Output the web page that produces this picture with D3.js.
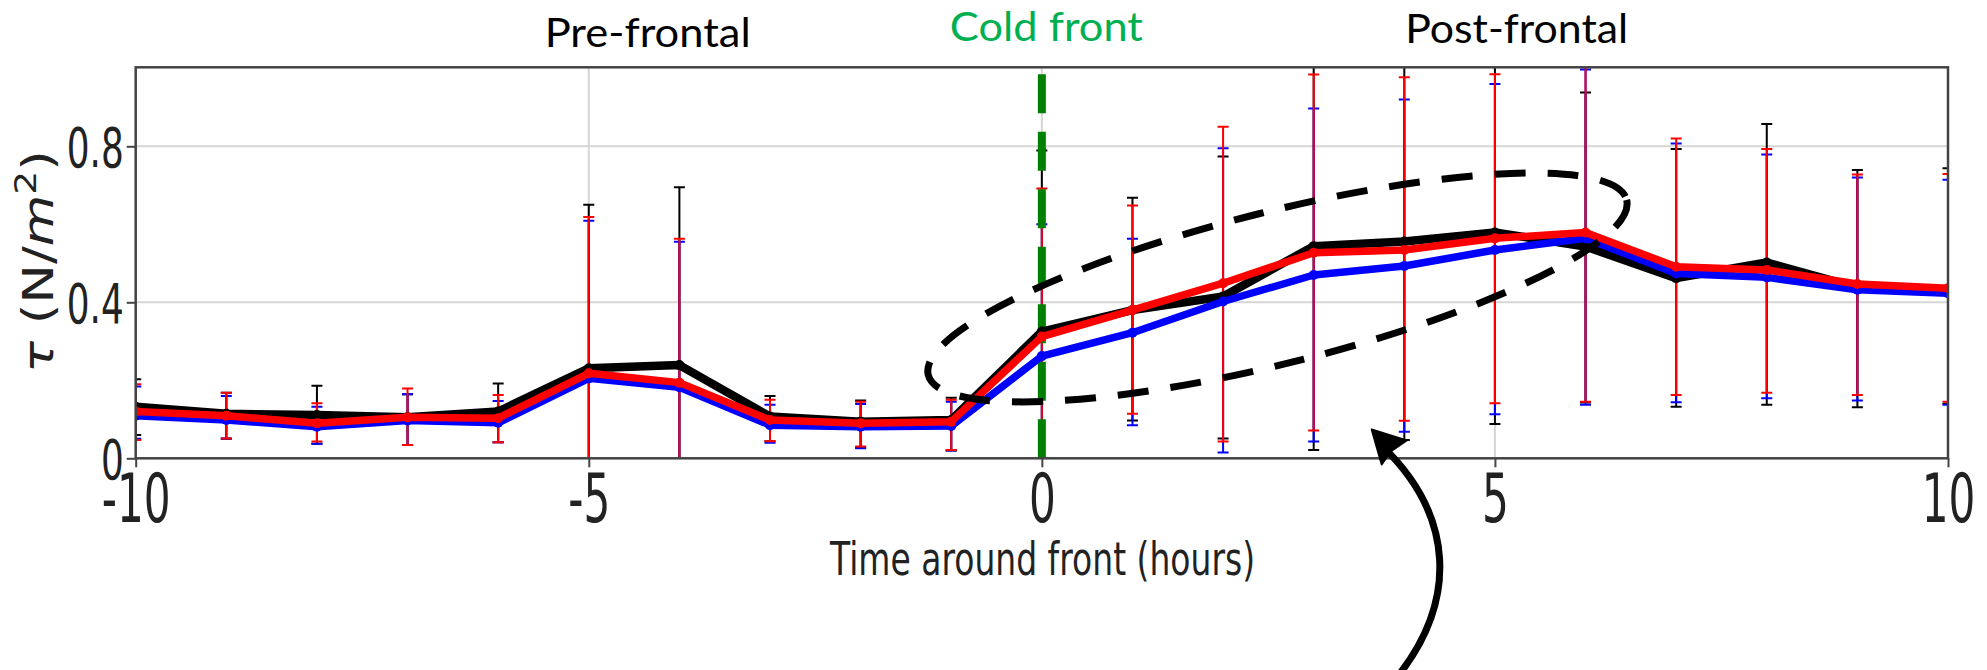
<!DOCTYPE html>
<html>
<head>
<meta charset="utf-8">
<script src="https://cdn.jsdelivr.net/npm/d3@7"></script>
<style>
    html, body { margin: 0; padding: 0; background: #fff; }
    svg { display: block; }
</style>
</head>
<body>
<svg id="chart" width="1987" height="670"></svg>
<script>
// hours around the passage of the front
var hours = [-10, -9, -8, -7, -6, -5, -4, -3, -2, -1, 0, 1, 2, 3, 4, 5, 6, 7, 8, 9, 10];

// mean stress (N/m^2) for the three curves
var blackTau = [0.132, 0.114, 0.111, 0.105, 0.120, 0.231, 0.239, 0.107, 0.094, 0.098, 0.325, 0.380, 0.415, 0.544, 0.556, 0.579, 0.543, 0.462, 0.502, 0.438, 0.432];
var blueTau  = [0.109, 0.098, 0.081, 0.097, 0.091, 0.205, 0.182, 0.085, 0.081, 0.083, 0.262, 0.322, 0.402, 0.470, 0.493, 0.534, 0.564, 0.474, 0.464, 0.432, 0.423];
var redTau   = [0.120, 0.109, 0.090, 0.105, 0.103, 0.218, 0.194, 0.098, 0.090, 0.094, 0.312, 0.380, 0.449, 0.527, 0.534, 0.564, 0.579, 0.491, 0.483, 0.447, 0.436];

// error bar ends (values outside 0..1 are cut by the frame)
var blackHigh = [0.203, 0.168, 0.186, 0.164, 0.192, 0.650, 0.695, 0.160, 0.148, 0.155, 0.789, 0.668, 0.774, 1.050, 1.050, 1.050, 0.938, 0.793, 0.857, 0.739, 0.744];
var blackLow  = [0.060, 0.050, 0.037, 0.034, 0.041, -0.15, -0.15, 0.044, 0.028, 0.020, -0.15, 0.097, 0.051, 0.021, 0.047, 0.088, 0.143, 0.132, 0.137, 0.131, 0.140];
var blueHigh  = [0.184, 0.160, 0.132, 0.164, 0.147, 0.609, 0.555, 0.137, 0.139, 0.145, 0.600, 0.563, 0.795, 0.897, 0.920, 0.960, 0.997, 0.807, 0.779, 0.720, 0.714];
var blueLow   = [0.050, 0.051, 0.037, 0.034, 0.041, -0.15, -0.15, 0.040, 0.026, 0.020, -0.15, 0.085, 0.015, 0.043, 0.068, 0.113, 0.137, 0.144, 0.154, 0.148, 0.137];
var redHigh   = [0.190, 0.168, 0.141, 0.179, 0.162, 0.619, 0.563, 0.150, 0.145, 0.150, 0.692, 0.648, 0.850, 0.984, 0.977, 0.985, 1.050, 0.820, 0.793, 0.728, 0.729];
var redLow    = [0.047, 0.051, 0.043, 0.034, 0.041, -0.15, -0.15, 0.044, 0.030, 0.021, -0.15, 0.114, 0.043, 0.071, 0.096, 0.141, 0.145, 0.162, 0.168, 0.162, 0.145];

var xTicks = [-10, -5, 0, 5, 10];
var xTickLabels = ['-10', '-5', '0', '5', '10'];
var yTicks = [0, 0.4, 0.8];
var yTickLabels = ['0', '0.4', '0.8'];

var regionLabels = ['Pre-frontal', 'Cold front', 'Post-frontal'];
var regionHours = [-4.35, 0.05, 5.24];
var frontHour = 0;

var svg = d3.select('#chart'),
    plotLeft = 135.7, plotRight = 1948, plotTop = 68.3, plotBottom = 458.3;

var x = d3.scaleLinear().domain([-10, 10]).range([plotLeft, plotRight]),
    y = d3.scaleLinear().domain([0, 1]).range([plotBottom, plotTop]);

svg.append('rect').attr('width', 1987).attr('height', 670).attr('fill', '#fff');

svg.append('clipPath').attr('id', 'plot-clip')
    .append('rect')
    .attr('x', plotLeft).attr('y', plotTop - 1)
    .attr('width', plotRight - plotLeft).attr('height', plotBottom - plotTop + 1);

// grid
var grid = svg.append('g');
grid.selectAll('line.gx')
    .data(xTicks)
    .enter().append('line')
    .attr('x1', function(d) { return x(d); })
    .attr('x2', function(d) { return x(d); })
    .attr('y1', plotTop).attr('y2', plotBottom)
    .attr('stroke', '#d6d6d6').attr('stroke-width', 2);
grid.selectAll('line.gy')
    .data(yTicks)
    .enter().append('line')
    .attr('x1', plotLeft).attr('x2', plotRight)
    .attr('y1', function(d) { return y(d); })
    .attr('y2', function(d) { return y(d); })
    .attr('stroke', '#d6d6d6').attr('stroke-width', 2);

var series = [
    { values: blackTau, low: blackLow, high: blackHigh, color: '#000000', width: 8.5 },
    { values: blueTau, low: blueLow, high: blueHigh, color: '#0000ff', width: 7.5 },
    { values: redTau, low: redLow, high: redHigh, color: '#ff0000', width: 7.5 }
];

series.forEach(function(s) {
    s.pts = hours.map(function(h, i) {
        return { h: h, v: s.values[i], lo: s.low[i], hi: s.high[i] };
    });
});

var plot = svg.append('g').attr('clip-path', 'url(#plot-clip)');

// error bars
series.forEach(function(s) {
    var bars = plot.append('g').selectAll('g')
        .data(s.pts)
        .enter().append('g');
    bars.append('line')
        .attr('x1', function(d) { return x(d.h); })
        .attr('x2', function(d) { return x(d.h); })
        .attr('y1', function(d) { return y(d.lo); })
        .attr('y2', function(d) { return y(d.hi); })
        .attr('stroke', s.color).attr('stroke-width', 2);
    ['lo', 'hi'].forEach(function(k) {
        bars.append('line')
            .attr('x1', function(d) { return x(d.h) - 5.5; })
            .attr('x2', function(d) { return x(d.h) + 5.5; })
            .attr('y1', function(d) { return y(d[k]); })
            .attr('y2', function(d) { return y(d[k]); })
            .attr('stroke', s.color).attr('stroke-width', 2);
    });
});

// cold front marker
plot.append('line')
    .attr('x1', x(frontHour)).attr('x2', x(frontHour))
    .attr('y1', y(0)).attr('y2', y(1))
    .attr('stroke', '#008000').attr('stroke-width', 8)
    .attr('stroke-dasharray', '39,18.5');

var line = d3.line()
    .x(function(d) { return x(d.h); })
    .y(function(d) { return y(d.v); });

series.forEach(function(s) {
    var g = plot.append('g');
    g.append('path')
        .datum(s.pts)
        .attr('d', line)
        .attr('fill', 'none')
        .attr('stroke', s.color)
        .attr('stroke-width', s.width)
        .attr('stroke-linejoin', 'round');

    g.selectAll('circle')
        .data(s.pts)
        .enter().append('circle')
        .attr('cx', function(d) { return x(d.h); })
        .attr('cy', function(d) { return y(d.v); })
        .attr('r', 5)
        .attr('fill', s.color);
});

// frame
svg.append('rect')
    .attr('x', plotLeft).attr('y', plotTop - 1)
    .attr('width', plotRight - plotLeft).attr('height', plotBottom - plotTop + 1)
    .attr('fill', 'none').attr('stroke', '#444').attr('stroke-width', 2.5);

// axes
var xAxis = svg.append('g')
    .attr('transform', 'translate(0,' + plotBottom + ')')
    .call(d3.axisBottom(x).tickValues(xTicks).tickSize(9).tickFormat(function(d, i) { return xTickLabels[i]; }));
xAxis.select('.domain').remove();
xAxis.selectAll('.tick line').attr('stroke', '#444').attr('stroke-width', 2);
xAxis.selectAll('.tick text')
    .attr('y', 64.2).attr('dy', null)
    .attr('fill', '#222')
    .attr('font-family', 'DejaVu Sans')
    .attr('font-size', 67)
    .attr('transform', 'scale(0.63,1)');

var yAxis = svg.append('g')
    .attr('transform', 'translate(' + plotLeft + ',0)')
    .call(d3.axisLeft(y).tickValues(yTicks).tickSize(9).tickFormat(function(d, i) { return yTickLabels[i]; }));
yAxis.select('.domain').remove();
yAxis.selectAll('.tick line').attr('stroke', '#444').attr('stroke-width', 2);
yAxis.selectAll('.tick text')
    .attr('x', -12 / 0.64).attr('dy', null).attr('y', 20.4)
    .attr('fill', '#222')
    .attr('font-family', 'DejaVu Sans')
    .attr('font-size', 56)
    .attr('transform', 'scale(0.64,1)');

// axis titles
svg.append('text')
    .attr('x', 1042.5).attr('y', 575)
    .attr('text-anchor', 'middle')
    .attr('font-family', 'DejaVu Sans')
    .attr('font-size', 45.5)
    .attr('fill', '#222')
    .attr('textLength', 425).attr('lengthAdjust', 'spacingAndGlyphs')
    .text('Time around front (hours)');

var yLabel = svg.append('text')
    .attr('transform', 'translate(52.5,261.5) rotate(-90)')
    .attr('text-anchor', 'middle')
    .attr('font-family', 'DejaVu Sans')
    .attr('font-size', 42)
    .attr('fill', '#222')
    .attr('textLength', 223).attr('lengthAdjust', 'spacingAndGlyphs');
yLabel.append('tspan').attr('font-style', 'italic').text('τ');
yLabel.append('tspan').text(' (N/');
yLabel.append('tspan').attr('font-style', 'italic').text('m');
yLabel.append('tspan').attr('font-size', 30).attr('dy', -17).text('2');
yLabel.append('tspan').attr('dy', 17).text(')');

// region titles
var regionBase = [46.7, 40.7, 43.3],
    regionWidth = [206, 193, 223],
    regionColor = ['#000', '#00b050', '#000'];
svg.selectAll('text.region')
    .data(regionLabels)
    .enter().append('text')
    .attr('x', function(d, i) { return x(regionHours[i]); })
    .attr('y', function(d, i) { return regionBase[i]; })
    .attr('text-anchor', 'middle')
    .attr('font-family', 'Lato, "Open Sans", sans-serif')
    .attr('font-size', 40)
    .attr('fill', function(d, i) { return regionColor[i]; })
    .attr('textLength', function(d, i) { return regionWidth[i]; })
    .attr('lengthAdjust', 'spacingAndGlyphs')
    .text(function(d) { return d; });

// highlight ellipse and arrow drawn on top
var ex = x(2.6), ey = y(0.438);
svg.append('ellipse')
    .attr('transform', 'translate(' + ex + ',' + ey + ') rotate(-14.07)')
    .attr('rx', 360).attr('ry', 76)
    .attr('fill', 'none')
    .attr('stroke', '#000').attr('stroke-width', 7)
    .attr('stroke-dasharray', '31,22');

var tx = x(3.64), ty = y(0.074);
svg.append('path')
    .attr('d', 'M' + (tx + 26) + ',' + (ty + 247) +
        ' C' + (tx + 86) + ',' + (ty + 171) + ' ' + (tx + 83) + ',' + (ty + 86) + ' ' + (tx + 10) + ',' + (ty + 16))
    .attr('fill', 'none').attr('stroke', '#000').attr('stroke-width', 7);
svg.append('path')
    .attr('d', 'M' + tx + ',' + ty +
        ' L' + (tx + 10) + ',' + (ty + 35) +
        ' L' + (tx + 19) + ',' + (ty + 22) +
        ' L' + (tx + 35) + ',' + (ty + 11) + 'Z')
    .attr('fill', '#000').attr('stroke', '#000').attr('stroke-width', 2).attr('stroke-linejoin', 'round');
</script>
</body>
</html>
